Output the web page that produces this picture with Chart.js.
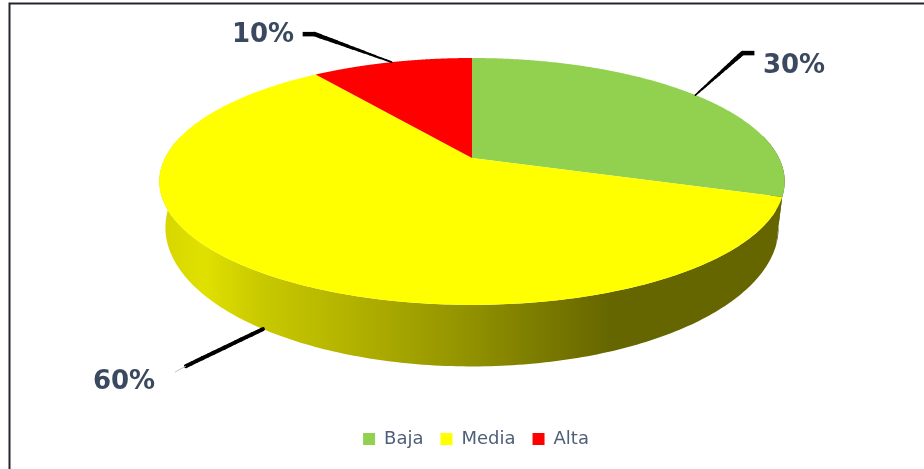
<!DOCTYPE html>
<html>
<head>
<meta charset="utf-8">
<style>html,body{margin:0;padding:0;background:#fff}canvas{display:block}</style>
<script src="https://cdn.jsdelivr.net/npm/chart.js@4"></script>
</head>
<body>
<canvas id="c" width="924" height="469"></canvas>
<script>
const categories = ['Baja', 'Media', 'Alta'];
const values = [30, 60, 10];
const sliceColors = ['#92d050', '#ffff00', '#ff0000'];

// Perspective projection of the flat pie: lid and lower rim.
const K = -0.19;
const LID = {x: 472, y: 158, a: 119, b: 307};
const RIM = {x: 472, y: 201, a: 134, b: 301};
function project(d, t) {
  const u = Math.cos(t), v = Math.sin(t), w = 1 + K * v;
  return {x: d.x + d.b * u / w, y: d.y + d.a * v / w};
}
// Shade along the side wall: [x, brightness]
const wallShade = [[160,.84],[205,.88],[260,.79],[340,.71],[470,.57],[560,.46],[610,.40],[790,.40]];
// Visible wall runs from the widest point on the right, round the front, to the widest point on the left.
const WALL_FROM = Math.asin(K), WALL_TO = Math.PI - Math.asin(K);
// Leader bends (offsets from each slice anchor) and label centres
const leaders = [
  {bends: [[47,-42],[59,-42]], taper: 1.5, width: 4.5, label: [794, 66], from: LID},
  {bends: [[-77,37]], taper: 4, width: 4, fade: [-88,43], label: [124, 382], from: RIM},
  {bends: [[-77,-28],[-89,-28]], taper: 1.5, width: 4.5, label: [263, 35], from: LID}
];
function rgb(hex) { return [1,3,5].map(i => parseInt(hex.substr(i,2),16)); }
function norm(t) { // bring an angle into [WALL_FROM, WALL_FROM + 2pi)
  while (t < WALL_FROM) t += 2 * Math.PI;
  while (t >= WALL_FROM + 2 * Math.PI) t -= 2 * Math.PI;
  return t;
}

const pie3d = {
  id: 'pie3d',
  beforeDraw(chart) {
    const c = chart.ctx;
    c.save();
    c.fillStyle = '#fff';
    c.fillRect(0, 0, 924, 469);
    c.strokeStyle = '#22262c';
    c.lineWidth = 2;
    c.beginPath();
    c.moveTo(924, 3.5); c.lineTo(9.5, 3.5); c.lineTo(9.5, 469);
    c.stroke();
    c.restore();
  },
  beforeDatasetDraw(chart) {
    const c = chart.ctx;
    const arcs = chart.getDatasetMeta(0).data;
    c.save();
    // side wall
    arcs.forEach((arc, i) => {
      const span = arc.endAngle - arc.startAngle;
      let s = norm(arc.startAngle), e = s + span;
      if (s > WALL_TO) { if (e > WALL_FROM + 2 * Math.PI) { s = WALL_FROM; e = e - 2 * Math.PI; } else return; }
      e = Math.min(e, WALL_TO);
      if (e <= s) return;
      const col = rgb(sliceColors[i]);
      const g = c.createLinearGradient(160, 0, 790, 0);
      wallShade.forEach(([x, sh]) => g.addColorStop((x - 160) / 630,
        `rgb(${col.map(n => Math.round(n * sh)).join(',')})`));
      c.fillStyle = g;
      const n = 200;
      c.beginPath();
      for (let j = 0; j <= n; j++) {
        const p = project(LID, s + (e - s) * j / n);
        j ? c.lineTo(p.x, p.y) : c.moveTo(p.x, p.y);
      }
      for (let j = n; j >= 0; j--) {
        const p = project(RIM, s + (e - s) * j / n);
        c.lineTo(p.x, p.y);
      }
      c.closePath();
      c.fill();
    });
    // lid
    arcs.forEach((arc, i) => {
      c.fillStyle = sliceColors[i];
      c.beginPath();
      c.moveTo(LID.x, LID.y);
      const n = 240;
      for (let j = 0; j <= n; j++) {
        const p = project(LID, arc.startAngle + (arc.endAngle - arc.startAngle) * j / n);
        c.lineTo(p.x, p.y);
      }
      c.closePath();
      c.fill();
    });
    // leaders and labels
    arcs.forEach((arc, i) => {
      const l = leaders[i];
      const mid = (arc.startAngle + arc.endAngle) / 2;
      const p = project(l.from, mid);
      c.strokeStyle = '#000'; c.lineCap = 'round';
      const b0 = l.bends[0], steps = 14;
      for (let j = 0; j < steps; j++) {
        const f0 = j / steps, f1 = (j + 1) / steps;
        c.lineWidth = l.taper + (l.width - l.taper) * f1;
        c.beginPath();
        c.moveTo(p.x + b0[0] * f0, p.y + b0[1] * f0);
        c.lineTo(p.x + b0[0] * f1, p.y + b0[1] * f1);
        c.stroke();
      }
      if (l.bends[1]) {
        c.lineWidth = l.width; c.lineCap = 'butt';
        c.beginPath();
        c.moveTo(p.x + b0[0], p.y + b0[1]);
        c.lineTo(p.x + l.bends[1][0], p.y + l.bends[1][1]);
        c.stroke();
      }
      if (l.fade) {
        c.strokeStyle = '#c4c4c4'; c.lineWidth = 1; c.lineCap = 'butt';
        c.beginPath(); c.moveTo(p.x + b0[0], p.y + b0[1]); c.lineTo(p.x + l.fade[0], p.y + l.fade[1]); c.stroke();
      }
      c.fillStyle = '#3a4960';
      c.font = 'bold 26px "DejaVu Sans"';
      c.textAlign = 'center'; c.textBaseline = 'middle';
      c.fillText(values[i] + '%', l.label[0], l.label[1]);
    });
    c.restore();
    return false;
  }
};

new Chart(document.getElementById('c'), {
  type: 'pie',
  data: {
    labels: categories,
    datasets: [{ data: values, backgroundColor: sliceColors, borderWidth: 0 }]
  },
  options: {
    responsive: false,
    animation: false,
    layout: { padding: { left: 28, bottom: 11 } },
    plugins: {
      tooltip: { enabled: false },
      title: { display: false },
      legend: {
        position: 'bottom',
        labels: {
          boxWidth: 12, boxHeight: 12, padding: 17,
          color: '#4f5f78',
          font: { family: '"DejaVu Sans"', size: 18 }
        }
      }
    }
  },
  plugins: [pie3d]
});
</script>
</body>
</html>
